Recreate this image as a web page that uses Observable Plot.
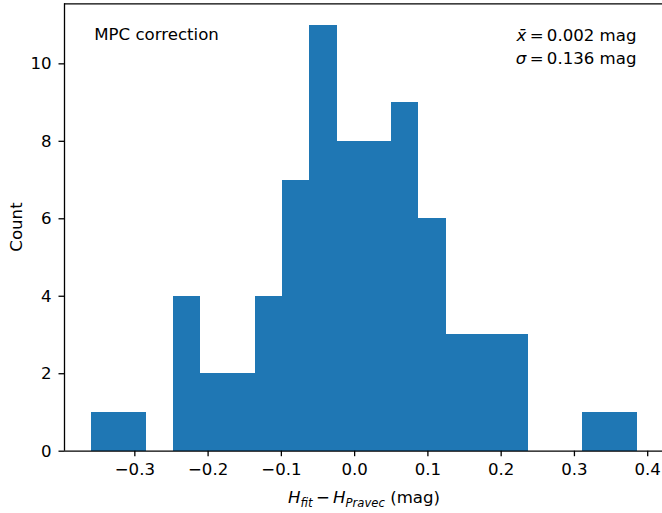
<!DOCTYPE html>
<html><head><meta charset="utf-8">
<script src="https://cdn.jsdelivr.net/npm/d3@7"></script>
<script src="https://cdn.jsdelivr.net/npm/@observablehq/plot@0.6"></script>
<style>html,body{margin:0;padding:0;background:#fff} svg{display:block}</style>
</head><body><div id="chart"></div>
<script>
// Histogram bin edges (mag)
const binEdges = [-0.3588, -0.3216, -0.2844, -0.2471, -0.2099, -0.1727, -0.1355, -0.0983,
  -0.0610, -0.0238, 0.0134, 0.0506, 0.0878, 0.1251, 0.1623, 0.1995, 0.2367, 0.2739,
  0.3112, 0.3484, 0.3856];
// Counts per bin
const counts = [1, 1, 0, 4, 2, 2, 4, 7, 11, 8, 8, 9, 6, 3, 3, 3, 0, 0, 1, 1];
// Tick values
const xTicks = [-0.3, -0.2, -0.1, 0.0, 0.1, 0.2, 0.3, 0.4];
const yTicks = [0, 2, 4, 6, 8, 10];
// Annotation values
const panelLabel = "MPC correction";
const meanText = "0.002";
const sigmaText = "0.136";
const xDomain = [-0.396, 0.4202];
const yDomain = [0, 11.55];

const bins = counts.map((c, i) => ({x1: binEdges[i], x2: binEdges[i + 1], count: c}));
const fmt = d => d.toFixed(1).replace("-", "\u2212");
const FONT = "DejaVu Sans";
const FS = 16.6;

const chart = Plot.plot({
  width: 662, height: 513,
  marginLeft: 64, marginRight: 0, marginTop: 3.3, marginBottom: 62.3,
  style: {fontFamily: FONT, fontSize: FS + "px", color: "#000", background: "#fff"},
  x: {domain: xDomain},
  y: {domain: yDomain},
  marks: [
    Plot.rectY(bins, {x1: "x1", x2: "x2", y: "count", fill: "#1f77b4",
      shapeRendering: "crispEdges", inset: 0, filter: d => d.count > 0}),
    Plot.axisX({ticks: xTicks, tickFormat: fmt, tickSize: 5.5, tickPadding: 7, strokeWidth: 1.3, label: null}),
    Plot.axisY({ticks: yTicks, tickSize: 5.5, tickPadding: 7.5, strokeWidth: 1.3, label: null}),
    Plot.ruleY([yDomain[0], yDomain[1]], {stroke: "#000", strokeWidth: 1.3}),
    Plot.ruleX([xDomain[0]], {stroke: "#000", strokeWidth: 1.3})
  ]
});
document.getElementById("chart").appendChild(chart);

const svg = d3.select(chart);
const g = svg.append("g").attr("font-family", FONT).attr("font-size", FS).attr("fill", "#000")
  .attr("text-anchor", "start");

g.append("text").attr("x", 94.3).attr("y", 40).attr("text-anchor", "start").text(panelLabel);

const t1 = g.append("text").attr("x", 636.5).attr("y", 40.5).attr("text-anchor", "end");
t1.append("tspan").attr("font-style", "italic").text("x\u0304");
t1.append("tspan").text("\u2009=\u2009" + meanText + " mag");

const t2 = g.append("text").attr("x", 636.5).attr("y", 64).attr("text-anchor", "end");
t2.append("tspan").attr("font-style", "italic").text("\u03c3");
t2.append("tspan").text("\u2009=\u2009" + sigmaText + " mag");

const xl = g.append("text").attr("x", 364).attr("y", 503).attr("text-anchor", "middle");
xl.append("tspan").attr("font-style", "italic").text("H");
xl.append("tspan").attr("font-style", "italic").attr("font-size", FS * 0.7).attr("dy", 3.5).text("fit");
xl.append("tspan").attr("dy", -3.5).text("\u2009\u2212\u2009");
xl.append("tspan").attr("font-style", "italic").text("H");
xl.append("tspan").attr("font-style", "italic").attr("font-size", FS * 0.7).attr("dy", 3.5).text("Pravec");
xl.append("tspan").attr("dy", -3.5).text(" (mag)");

g.append("text").attr("transform", "translate(21.5,227) rotate(-90)").attr("text-anchor", "middle").text("Count");
</script></body></html>
